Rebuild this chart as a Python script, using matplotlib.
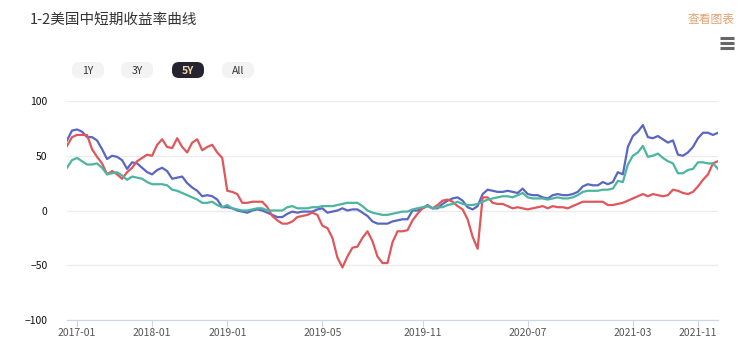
import matplotlib.pyplot as plt
from matplotlib.patches import FancyBboxPatch

plt.rcParams['font.family'] = ['Noto Sans CJK SC', 'DejaVu Sans']

# values, one point per category step
blue = [64, 73, 74, 72, 67, 67, 64, 56, 47, 50, 49, 46, 38, 44, 43, 39, 35, 33, 37, 39,
        36, 29, 30, 31, 25, 21, 18, 13, 14, 13, 10, 3, 3, 2, 0, -1, -2, 0, 1, 0,
        -2, -4, -6, -6, -3, -1, -2, -1, -1, -1, 1, 2, -2, -1, 0, 2, 0, 1, 1, -2,
        -5, -10, -12, -12, -12, -10, -9, -8, -8, 0, 0, 2, 5, 2, 2, 6, 9, 11, 12, 9,
        3, 1, 4, 15, 19, 18, 17, 17, 18, 17, 16, 20, 15, 14, 14, 12, 11, 14, 15, 14,
        14, 15, 17, 22, 24, 23, 23, 26, 24, 26, 35, 33, 58, 68, 72, 78, 67, 66, 68, 65,
        62, 64, 51, 50, 53, 58, 66, 71, 71, 69, 71]
red = [59, 67, 69, 69, 69, 56, 49, 43, 33, 36, 33, 29, 35, 39, 45, 48, 51, 50, 60, 65,
       58, 57, 66, 58, 53, 62, 65, 55, 58, 60, 53, 48, 18, 17, 15, 7, 7, 8, 8, 8,
       3, -5, -9, -12, -12, -10, -6, -5, -4, -2, -4, -14, -16, -25, -43, -52, -42, -34, -33, -25,
       -19, -28, -42, -48, -48, -29, -19, -19, -18, -9, -3, 2, 4, 2, 5, 9, 10, 8, 4, 1,
       -8, -24, -35, 12, 12, 7, 6, 6, 4, 2, 3, 2, 1, 2, 3, 4, 2, 4, 3, 3,
       2, 4, 6, 8, 8, 8, 8, 8, 5, 5, 6, 7, 9, 11, 13, 15, 13, 15, 14, 13,
       14, 19, 18, 16, 15, 17, 22, 28, 33, 43, 45]
green = [39, 46, 48, 45, 42, 42, 43, 39, 33, 34, 35, 32, 28, 31, 30, 29, 26, 24, 24, 24,
         23, 19, 18, 16, 14, 12, 10, 7, 7, 8, 5, 3, 5, 2, 1, 0, 0, 1, 2, 2,
         0, 0, 0, 0, 3, 4, 2, 2, 2, 3, 3, 4, 4, 4, 5, 6, 7, 7, 7, 4,
         0, -2, -3, -4, -4, -3, -2, -1, -1, 1, 2, 3, 4, 2, 3, 3, 5, 6, 8, 6,
         5, 5, 6, 8, 10, 11, 12, 13, 13, 12, 14, 16, 12, 11, 11, 11, 10, 11, 12, 11,
         11, 12, 14, 17, 18, 18, 18, 19, 19, 20, 27, 26, 42, 50, 53, 59, 49, 50, 52, 48,
         45, 43, 34, 34, 37, 38, 44, 44, 43, 43, 38]

tick_idx = [2, 17, 32, 51, 71, 92, 113, 126]
tick_labels = ['2017-01', '2018-01', '2019-01', '2019-05', '2019-11', '2020-07', '2021-03', '2021-11']
buttons = ['1Y', '3Y', '5Y', 'All']

fig = plt.figure(figsize=(7.39, 3.55), dpi=100)
ax = fig.add_axes([67 / 739, 1 - 320 / 355, 651 / 739, 219 / 355])

x = list(range(len(blue)))
ax.plot(x, blue, color='#5a66c2', lw=1.6, solid_joinstyle='round', zorder=3)
ax.plot(x, red, color='#e0575b', lw=1.6, solid_joinstyle='round', zorder=3)
ax.plot(x, green, color='#4cb5a0', lw=1.6, solid_joinstyle='round', zorder=3)

ax.set_xlim(0, len(blue) - 1)
ax.set_ylim(-100, 100)
ax.set_yticks([-100, -50, 0, 50, 100])
ax.set_xticks(tick_idx)
ax.set_xticklabels(tick_labels)
ax.grid(axis='y', color='#ececec', lw=1)
ax.set_axisbelow(True)
for s in ['top', 'right', 'left']:
    ax.spines[s].set_visible(False)
ax.spines['bottom'].set_color('#ccd6eb')
ax.tick_params(axis='y', length=0, labelsize=7.5, labelcolor='#111', pad=14)
ax.tick_params(axis='x', length=5, color='#ccd6eb', labelsize=7.5, labelcolor='#555', pad=1)

# overlay in pixel units for header widgets
ov = fig.add_axes([0, 0, 1, 1], zorder=-1)
ov.set_xlim(0, 739)
ov.set_ylim(355, 0)
ov.axis('off')

ov.text(30, 20, '1-2美国中短期收益率曲线', fontsize=10.5, color='#333', va='center')
ov.text(735, 19, '查看图表', fontsize=8.5, color='#e3a26e', va='center', ha='right')
for yy in [38, 43, 48]:
    ov.plot([720, 734], [yy, yy], color='#666', lw=2.2, solid_capstyle='butt')

bx = [72, 121, 172, 222]
for b, x0 in zip(buttons, bx):
    dark = b == '5Y'
    ov.add_patch(FancyBboxPatch((x0, 62), 32, 16, boxstyle='round,pad=0,rounding_size=7',
                                fc='#24232f' if dark else '#f3f3f3', ec='none'))
    ov.text(x0 + 16, 70.5, b, fontsize=7.5, ha='center', va='center',
            color='#f0d9a8' if dark else '#333', fontweight='bold' if dark else 'normal')

fig.savefig('out.png', dpi=100)
